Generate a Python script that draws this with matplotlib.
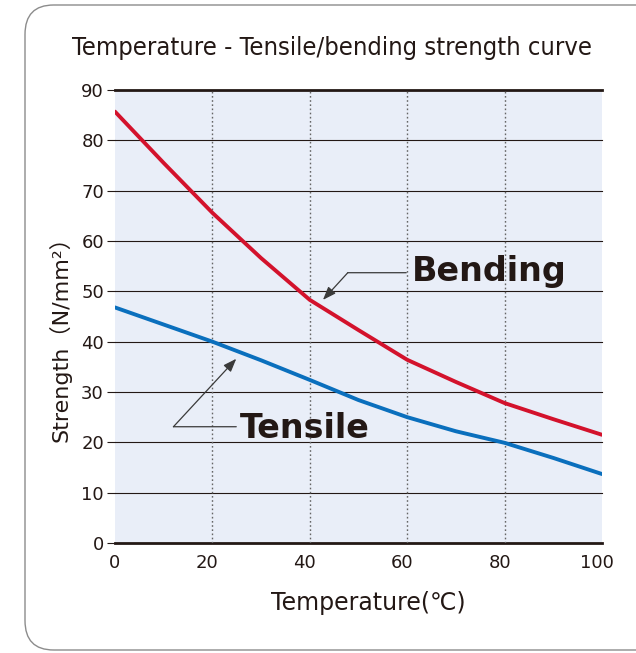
import matplotlib
matplotlib.use("Agg")
import matplotlib.pyplot as plt
import matplotlib.transforms as mtransforms
from matplotlib.patches import FancyBboxPatch

# ---- data ----
temperature = [0, 10, 20, 30, 40, 50, 60, 70, 80, 90, 100]
bending = [85.7, 75.5, 65.6, 56.6, 48.3, 42.3, 36.4, 32.0, 27.8, 24.6, 21.5]
tensile = [46.8, 43.4, 40.0, 36.3, 32.4, 28.4, 25.0, 22.2, 19.9, 16.9, 13.7]
x_ticks = [0, 20, 40, 60, 80, 100]
y_ticks = [0, 10, 20, 30, 40, 50, 60, 70, 80, 90]
title = "Temperature - Tensile/bending strength curve"
x_label = "Temperature(\u2103)"
y_label = "Strength\uff08N/mm\u00b2\uff09"
bending_label = "Bending"
tensile_label = "Tensile"

plt.rcParams['font.family'] = ['DejaVu Sans', 'Noto Sans CJK JP']

W, H = 636, 653
fig = plt.figure(figsize=(W / 100, H / 100), dpi=100)
fig.patch.set_facecolor("white")

# outer rounded frame
frame = FancyBboxPatch((25 / W, 3 / H), 1.2, (H - 8) / H,
                       boxstyle="round,pad=0,rounding_size=0.045",
                       transform=fig.transFigure, facecolor="none",
                       edgecolor="#8c8c8c", linewidth=1.0, clip_on=False)
fig.patches.append(frame)

ax = fig.add_axes([115 / W, 1 - 543 / H, (602 - 115) / W, (543 - 90) / H])
ax.set_facecolor("#e9eef8")
ax.set_xlim(0, 100)
ax.set_ylim(0, 90)

for s in ax.spines.values():
    s.set_visible(False)

# grid lines
for yv in y_ticks:
    lw = 2.0 if yv in (0, 90) else 0.8
    ax.axhline(yv, color="#231815", lw=lw, zorder=1, clip_on=False)
for xv in x_ticks[1:-1]:
    ax.axvline(xv, color="#666666", lw=1.0, ls=(0, (1.2, 1.8)), zorder=1)

ax.plot(temperature, bending, color="#d3122c", lw=2.8, zorder=3,
        solid_capstyle="round", solid_joinstyle="round")
ax.plot(temperature, tensile, color="#0a6fbd", lw=2.8, zorder=3,
        solid_capstyle="round", solid_joinstyle="round")

ax.set_xticks(x_ticks)
ax.set_yticks(y_ticks)
ax.tick_params(axis="y", length=6, width=0.8, color="#231815", pad=2,
               labelsize=13, labelcolor="#231815")
ax.tick_params(axis="x", length=0, pad=8, labelsize=13, labelcolor="#231815")

# slight leftward shift of x tick labels as in the reference
shift = mtransforms.ScaledTranslation(-5 / 100, 0, fig.dpi_scale_trans)
for i, lab in enumerate(ax.get_xticklabels()):
    if i > 0:
        lab.set_transform(lab.get_transform() + shift)

ax.set_xlabel(x_label, fontsize=17, color="#231815")
ax.xaxis.set_label_coords((368 - 115) / 487, (543 - 591) / 453)
ax.set_ylabel(y_label, fontsize=16, color="#231815", va="center")
ax.yaxis.set_label_coords((60 - 115) / 487, (543 - 333) / 453)

fig.text(332.5 / W, 1 - 48 / H, title, ha="center", va="center", fontsize=18.3,
         fontstretch="condensed", color="#231815")

# annotations
ann = dict(color="#3a3a3a", lw=0.9)
ax.annotate("", xy=(42.7, 48.3), xytext=(47.8, 53.7),
            arrowprops=dict(arrowstyle="-|>,head_length=0.8,head_width=0.3",
                            shrinkA=0, shrinkB=0, **ann), zorder=4)
ax.annotate("", xy=(47.8, 53.7), xytext=(59.8, 53.7),
            arrowprops=dict(arrowstyle="-", shrinkA=0, shrinkB=0, **ann), zorder=4)
ax.text(61.0, 52.1, bending_label, fontsize=24, fontweight="bold",
        color="#231815", ha="left", va="baseline", zorder=5)

ax.annotate("", xy=(24.9, 36.6), xytext=(12.0, 23.1),
            arrowprops=dict(arrowstyle="-|>,head_length=0.8,head_width=0.3",
                            shrinkA=0, shrinkB=0, **ann), zorder=4)
ax.annotate("", xy=(12.0, 23.1), xytext=(24.9, 23.1),
            arrowprops=dict(arrowstyle="-", shrinkA=0, shrinkB=0, **ann), zorder=4)
ax.text(25.6, 20.9, tensile_label, fontsize=24, fontweight="bold",
        color="#231815", ha="left", va="baseline", zorder=5)

fig.savefig("out.png", dpi=100, facecolor="white")
